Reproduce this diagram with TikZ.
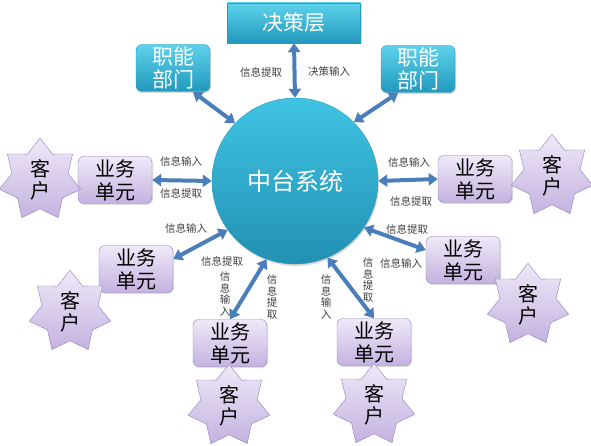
\documentclass[tikz,border=0pt]{standalone}
\usepackage{fontspec}
\setmainfont{Noto Sans CJK SC}
\usetikzlibrary{arrows.meta,shapes.geometric,shadows}

\definecolor{arrowblue}{HTML}{4A7EBB}
\definecolor{tealtop}{HTML}{5ED2EC}
\definecolor{tealbot}{HTML}{2199BC}
\definecolor{tealline}{HTML}{2A9AB8}
\definecolor{corebot}{HTML}{2290B2}
\definecolor{coretop}{HTML}{40C4E4}
\definecolor{lilactop}{HTML}{EFE9F8}
\definecolor{lilacbot}{HTML}{C4B2E0}
\definecolor{lilacline}{HTML}{927DBC}

\begin{document}
\begin{tikzpicture}[x=1pt,y=-1pt,
    tealbox/.style={rectangle,draw=tealline,top color=tealtop,bottom color=tealbot,text=white,
      font=\fontsize{21}{23}\selectfont,align=center,inner sep=0pt,
      drop shadow={opacity=0.3,shadow xshift=1pt,shadow yshift=-1.5pt}},
    unitbox/.style={rectangle,rounded corners=6pt,draw=lilacline,top color=lilactop,bottom color=lilacbot,
      minimum width=74pt,minimum height=47pt,align=center,font=\fontsize{20}{23}\selectfont,inner sep=0pt,
      drop shadow={opacity=0.25,shadow xshift=1pt,shadow yshift=-1.5pt}},
    clientstar/.style={star,star points=7,star point ratio=1.45,minimum size=77pt,draw=lilacline,
      top color=lilactop,bottom color=lilacbot,align=center,font=\fontsize{20}{22}\selectfont,inner sep=0pt},
    biarrow/.style={draw=arrowblue,line width=4pt,arrows={Triangle[length=9pt,width=12pt]-Triangle[length=9pt,width=12pt]}},
    infolabel/.style={font=\fontsize{10.5}{11.5}\selectfont,text=black!75,align=center,inner sep=0pt}]
    \useasboundingbox (0,0) rectangle (591,446);

    \node[tealbox,minimum width=133pt,minimum height=40pt] (decide) at (294,23) {决策层};
    \node[tealbox,rounded corners=6pt,minimum width=74pt,minimum height=47pt] (dept1) at (173,68) {职能\\部门};
    \node[tealbox,rounded corners=6pt,minimum width=74pt,minimum height=47pt] (dept2) at (418,69) {职能\\部门};
    \node[circle,minimum size=166pt,draw=tealline,top color=coretop,bottom color=corebot,
      text=white,font=\fontsize{24}{26}\selectfont,drop shadow={opacity=0.3,shadow xshift=1pt,shadow yshift=-2pt}] (core) at (295,181) {中台系统};

    \node[unitbox] (unit1) at (115,180) {业务\\单元};
    \node[unitbox] (unit2) at (475,179) {业务\\单元};
    \node[unitbox] (unit3) at (463,260) {业务\\单元};
    \node[unitbox] (unit4) at (136,269) {业务\\单元};
    \node[unitbox] (unit5) at (230,343) {业务\\单元};
    \node[unitbox] (unit6) at (374,342) {业务\\单元};

    \node[clientstar] (client1) at (40,180) {客\\户};
    \node[clientstar] (client2) at (552,176) {客\\户};
    \node[clientstar] (client3) at (528,305) {客\\户};
    \node[clientstar] (client4) at (70,312) {客\\户};
    \node[clientstar] (client5) at (229,406) {客\\户};
    \node[clientstar] (client6) at (374,405) {客\\户};

    \draw[biarrow] (decide.south) -- (core.north);
    \draw[biarrow] (dept1.-50) -- (core.136);
    \draw[biarrow] (dept2.230) -- (core.45);
    \draw[biarrow] (unit1.east) -- (core.west);
    \draw[biarrow] (core.east) -- (unit2.west);
    \draw[biarrow] (core.326) -- (unit3.165);
    \draw[biarrow] (core.216) -- (unit4.15);
    \draw[biarrow] (core.250) -- (unit5.north);
    \draw[biarrow] (core.293) -- (unit6.north);

    \node[infolabel] (up1) at (261,72) {信息提取};
    \node[infolabel] (up2) at (329,72) {决策输入};
    \node[infolabel] (in1) at (181,161) {信息输入};
    \node[infolabel] (out1) at (181,193) {信息提取};
    \node[infolabel] (in2) at (409,162) {信息输入};
    \node[infolabel] (out2) at (411,201) {信息提取};
    \node[infolabel] (out3) at (407,229) {信息提取};
    \node[infolabel] (in3) at (401,263) {信息输入};
    \node[infolabel] (in4) at (186,228) {信息输入};
    \node[infolabel] (out4) at (222,261) {信息提取};
    \node[infolabel] (in5) at (225,294) {信\\息\\输\\入};
    \node[infolabel] (out5) at (272,297) {信\\息\\提\\取};
    \node[infolabel] (in6) at (326,297) {信\\息\\输\\入};
    \node[infolabel] (out6) at (368,280) {信\\息\\提\\取};
\end{tikzpicture}
\end{document}
